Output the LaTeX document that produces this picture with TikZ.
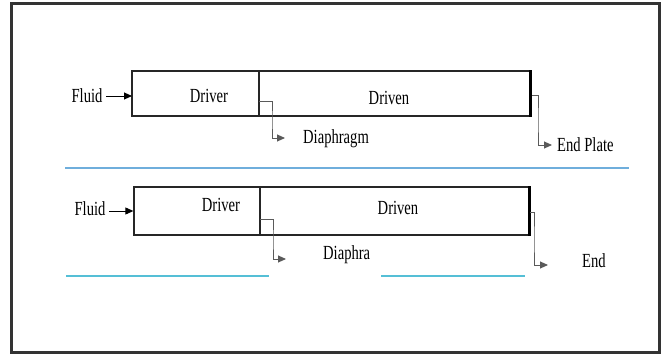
\documentclass[tikz,border=0pt]{standalone}
\usepackage{fontspec}
\setmainfont{Liberation Serif}[FakeStretch=0.73]
\usetikzlibrary{arrows.meta}
\definecolor{framegray}{HTML}{333333}
\definecolor{sepblue}{HTML}{6FAEDC}
\definecolor{sepcyan}{HTML}{55BFD6}
\definecolor{leadgray}{HTML}{5A5A5A}
\tikzset{
  tube/.style={draw=black!85, line width=1.3pt, minimum height=45pt, inner sep=0pt},
  lbl/.style={inner sep=0pt, font=\fontsize{20}{21}\selectfont},
  feed/.style={draw=black, line width=0.9pt, -{Triangle[length=8pt,width=7pt]}},
  lead/.style={draw=leadgray, line width=0.9pt, -{Triangle[length=8pt,width=7pt]}},
  plate/.style={draw=black, line width=3.5pt},
  sepline/.style={line width=1.1pt}
}
\begin{document}
\begin{tikzpicture}[x=1pt,y=-1pt]
\useasboundingbox (0,0) rectangle (661,355);
\draw[framegray, line width=3pt] (11.5,3.5) rectangle (659.8,352.5);

% ---------- top diagram ----------
\node[tube, minimum width=127pt] (drv1) at (195.5,93.5) {};
\node[tube, minimum width=271pt] (dvn1) at (394.5,93.5) {};
\draw[plate] (dvn1.north east) -- (dvn1.south east);
\node[lbl] (fluid1) at (87,96) {Fluid};
\coordinate (f1s) at (106,96);
\coordinate (f1e) at (132,96);
\draw[feed] (f1s) -- (f1e);
\node[lbl] (drvt1) at (209,96) {Driver};
\node[lbl] (dvnt1) at (389,98) {Driven};
\node[lbl, anchor=west] (dia1) at (303,139) {Diaphragm};
\node[lbl, anchor=west] (end1) at (557,145) {End Plate};
\coordinate (d1s) at (259,101);
\coordinate (d1e) at (285,138);
\draw[lead] (d1s) -| (272,120) |- (d1e);
\coordinate (e1s) at (532,95);
\coordinate (e1e) at (552,145);
\draw[lead] (e1s) -| (538,120) |- (e1e);

\coordinate (b1a) at (65,168);
\coordinate (b1b) at (629,168);
\draw[sepline, sepblue] (b1a) -- (b1b);

% ---------- bottom diagram ----------
\node[tube, minimum width=126pt, minimum height=48pt] (drv2) at (197,211) {};
\node[tube, minimum width=269pt, minimum height=48pt] (dvn2) at (394.5,211) {};
\draw[plate] (dvn2.north east) -- (dvn2.south east);
\node[lbl] (fluid2) at (90,209) {Fluid};
\coordinate (f2s) at (109,211);
\draw[feed] (f2s) -- (drv2.west);
\node[lbl] (drvt2) at (221,205) {Driver};
\node[lbl] (dvnt2) at (398,208) {Driven};
\node[lbl, anchor=west] (dia2) at (323,255) {Diaphra};
\node[lbl] (end2) at (594,261) {End};
\coordinate (d2s) at (260,219);
\coordinate (d2e) at (286,259);
\draw[lead] (d2s) -| (273,240) |- (d2e);
\coordinate (e2s) at (530,212);
\coordinate (e2e) at (548,265);
\draw[lead] (e2s) -| (534,240) |- (e2e);

\coordinate (b2a) at (66,276);
\coordinate (b2b) at (269,276);
\coordinate (b3a) at (381,276);
\coordinate (b3b) at (525,276);
\draw[sepline, sepcyan] (b2a) -- (b2b);
\draw[sepline, sepcyan] (b3a) -- (b3b);
\end{tikzpicture}
\end{document}
